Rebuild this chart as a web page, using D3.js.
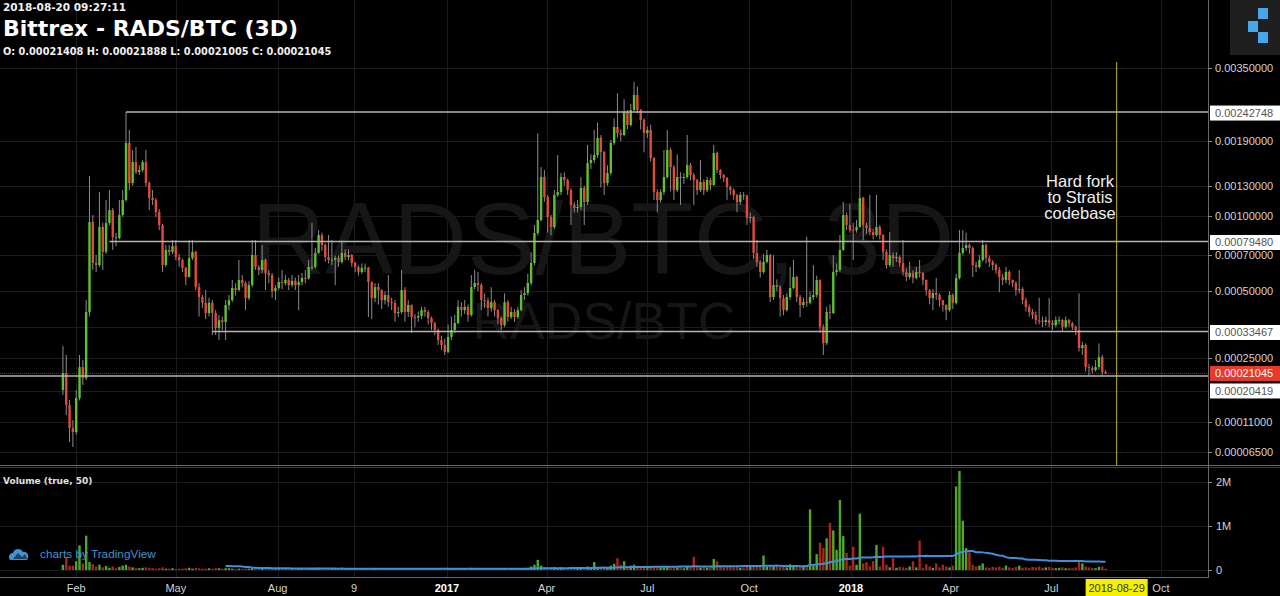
<!DOCTYPE html>
<html><head><meta charset="utf-8">
<script src="https://cdn.jsdelivr.net/npm/d3@7"></script>
<style>
html,body{margin:0;padding:0;background:#000;}
svg{display:block;}
</style></head><body>
<svg id="chart" width="1280" height="596"></svg>
<script>
// ---------------- DATA (prices in units of 1e-7 BTC, volume in millions) ----------------
const firstBarDate = "2016-01-20";
const barDays = 3;
const firstOpen = 1718;
const closes = [
2115,1409,1003,940,1548,2268,1991,4080,9460,6530,
6408,9050,7230,9380,10510,8275,8200,10060,11480,18730,
13300,15920,14620,14870,15920,13300,11680,11480,10330,9210,
6408,7360,7230,7630,6900,6710,6240,5730,6830,7230,
5210,4730,4470,4040,4470,4040,3470,3760,3690,4375,
4590,5160,5060,5570,5410,4680,5310,7027,6290,6120,
6710,5950,5837,5010,5160,5460,5410,5570,5310,5520,
5310,5460,5680,5650,6290,6300,7160,8424,7697,6900,
6710,6740,6830,6590,7160,6900,7027,6530,6290,6010,
6240,6260,5460,4680,5210,5060,4590,4824,4500,4470,
4040,4080,5060,4080,4375,3880,3860,3920,4160,4080,
3840,3650,3400,3060,2899,2690,3160,3400,3650,4290,
4160,4290,3961,5210,5410,5310,4590,4570,4250,4500,
4160,3840,3578,4500,3880,4080,3880,4160,4824,4920,
5410,6530,8570,9630,14010,11780,9890,9050,11990,12300,
14010,13650,12520,10990,10700,10800,12750,11280,15790,16200,
16910,19530,17340,13300,14500,18730,21420,20360,20020,24280,
21780,24690,27970,24690,22710,20360,20880,16480,12300,11480,
12300,14010,17640,15250,12520,14010,13890,14000,15520,14250,
13650,12520,13420,12500,13650,13070,17190,14870,14250,13890,
12840,12520,11990,11280,11990,11950,9800,9890,7160,6590,
6010,6590,7027,4730,5310,5210,4680,4160,4730,5160,
5730,4730,4375,4500,4470,4730,4824,5570,3510,2960,
4080,4040,6010,6120,7360,10060,9210,8810,8780,9050,
11680,9210,8970,8650,8424,9050,8424,7230,6408,7027,
6830,6900,6530,6010,5730,5950,5680,6010,5950,5570,
5060,4680,4920,4824,4590,4375,4160,4824,4470,5680,
7160,7490,7697,7490,6408,6290,6710,7697,6830,6590,
6408,6120,5730,5570,6010,5570,5410,5060,5110,4590,
4290,4080,3961,3760,3740,3690,3760,3650,3578,3760,
3770,3510,3760,3650,3510,3400,2806,2899,2268,2240,
2190,2268,2540,2140.8,2104.5];
const highs = [
2870,2600,1507,1136,1718,2600,2457,4590,14130,10060,
7027,12300,9400,11480,12520,10700,8600,11480,12520,24270,
20880,17640,18100,15520,16200,17640,13500,12520,11700,10600,
9300,7700,7697,8050,8050,7100,6800,6300,8050,8050,
7300,5400,4824,5060,4700,4600,4160,3961,3900,4590,
4824,5570,5400,6710,5837,5500,5500,8050,8050,6400,
7697,6800,6120,5950,5300,5700,6120,5837,5680,5837,
5700,5837,5950,6120,6710,9400,7500,8810,8600,7800,
8424,8050,7000,7000,8000,7400,7400,7100,6600,6400,
6500,6500,6300,5500,5400,5400,5100,5000,5837,4700,
4600,4300,6120,5200,4590,4400,4000,4100,4300,4300,
4160,3900,3700,3450,3200,3100,3600,3900,3961,4590,
4500,4590,4400,5837,6120,6000,5400,4900,4700,5200,
4600,4200,3900,4900,4600,4300,4200,4300,5060,5200,
5900,7200,9210,20300,15250,14870,12000,10060,12520,16900,
14500,14600,13800,12700,11300,11500,14000,13000,18410,17000,
20880,22200,20000,17500,15500,19200,23000,28400,21000,27000,
24690,26000,31200,30000,24900,23000,21500,21800,16600,12600,
12600,17640,20880,18000,15500,17000,14600,14500,20020,15800,
14500,13800,16200,13700,14000,13900,18410,17400,15000,14400,
14000,13000,12700,12100,12300,12300,12000,10300,10000,8050,
6700,7100,7360,7100,7027,5600,5300,4824,4900,6290,
6710,5800,4824,4700,8300,5000,6400,5800,5600,3600,
4300,4400,7027,6500,8424,11280,10300,11100,9400,9630,
15130,11800,9400,12000,8900,12000,9200,8500,7400,8650,
7200,7200,7000,8050,6200,6600,6100,6300,6710,6000,
5600,5100,5100,5680,4900,4600,4400,5000,4900,5900,
8810,8810,8600,7800,7600,6600,7027,8050,7800,7000,
6700,6500,6300,5900,6300,6100,5600,5500,6120,5200,
4700,4400,4200,4100,4700,3900,3900,4680,3760,3900,
3900,3800,3900,3800,3700,3560,4900,3000,2950,2350,
2300,2457,2950,2600,2188.8];
const lows = [
1610,1223,790,720,900,1500,1830,1944,3900,6120,
6000,6300,6120,7100,9200,7360,7600,8100,9900,11300,
12500,13000,14400,14250,14600,12900,10500,11000,9900,8800,
6000,6300,7000,7100,6700,6300,6000,5300,5700,6700,
5060,3900,4250,3800,3900,3226,3226,3060,3400,3060,
4160,4500,4800,5000,5200,4160,4590,5200,6120,5837,
5950,5060,5400,4700,4590,5060,5100,5300,5060,5200,
5060,4160,5300,5400,5600,6100,6200,7100,7300,6600,
6500,6400,5300,6300,6500,6700,6700,6300,6000,5800,
5900,6000,3880,3800,4500,4400,4200,4400,4300,4160,
3700,3880,4000,3700,3880,3300,3500,3700,3800,3900,
3600,3400,3226,2900,2745,2599,2650,3060,3300,3600,
3900,4000,3700,3900,5100,5000,4160,4250,3900,4100,
3900,3600,3400,3500,3700,3800,3700,3800,4100,4600,
4800,5300,6400,8400,9500,11300,8600,8400,8900,11800,
12000,13000,12000,9210,10300,10300,10500,9210,11000,15000,
15800,16500,12800,11990,13000,14200,18400,19600,19000,19800,
21000,21500,24500,24000,21000,17300,19500,16000,11480,10300,
11200,12000,13800,12400,11480,12300,11000,13200,13800,13600,
11000,12000,12300,12000,12300,12500,13000,14500,13800,13400,
11500,12000,11500,10300,11000,11500,9210,9400,6800,6300,
5700,5900,6500,4500,4600,5000,3900,3960,4100,4600,
5100,4500,3880,4250,4300,4400,4600,4700,3300,2600,
2900,3800,4000,5800,6000,7300,8800,8600,6710,8600,
9000,8050,8500,8400,8100,8300,8100,6710,6200,6300,
6300,6600,6300,5800,5500,5600,5400,5600,5700,5300,
4800,4400,4160,4600,4300,4100,3760,4100,4200,4400,
5600,7000,7300,7100,5730,6000,6200,6600,6500,6300,
6100,5900,4950,5300,5400,5300,5200,4800,4900,4400,
4100,3900,3800,3600,3600,3500,3550,3500,3400,3500,
3600,3350,3450,3500,3400,3226,2700,2600,2150,2050,
2100,2150,2200,2050,2100.5];
const volumesM = [
0.12,0.30,0.10,0.10,0.20,0.56,0.15,0.78,0.18,0.13,0.08,0.12,0.06,0.09,0.05,0.08,0.04,0.07,0.10,0.12,
0.08,0.06,0.05,0.04,0.05,0.06,0.05,0.04,0.03,0.04,0.06,0.03,0.03,0.04,0.02,0.03,0.03,0.04,0.05,0.03,
0.05,0.04,0.03,0.03,0.04,0.03,0.05,0.04,0.03,0.04,0.04,0.03,0.02,0.03,0.02,0.03,0.03,0.04,0.03,0.02,
0.03,0.02,0.03,0.03,0.02,0.02,0.03,0.02,0.02,0.02,0.03,0.04,0.03,0.02,0.03,0.04,0.04,0.05,0.04,0.03,
0.03,0.02,0.03,0.02,0.03,0.02,0.02,0.03,0.03,0.02,0.02,0.02,0.04,0.05,0.03,0.03,0.04,0.02,0.03,0.02,
0.03,0.02,0.03,0.03,0.02,0.03,0.02,0.02,0.02,0.02,0.03,0.03,0.03,0.04,0.05,0.05,0.03,0.03,0.02,0.04,
0.03,0.02,0.03,0.05,0.04,0.03,0.03,0.02,0.03,0.02,0.03,0.03,0.04,0.04,0.03,0.02,0.03,0.02,0.03,0.04,
0.05,0.08,0.12,0.23,0.10,0.06,0.05,0.05,0.07,0.05,0.06,0.04,0.04,0.05,0.03,0.03,0.05,0.04,0.08,0.06,
0.18,0.06,0.05,0.08,0.06,0.10,0.14,0.27,0.12,0.20,0.08,0.10,0.12,0.08,0.06,0.05,0.04,0.06,0.08,0.07,
0.06,0.06,0.08,0.05,0.06,0.05,0.06,0.04,0.07,0.06,0.30,0.08,0.06,0.07,0.05,0.06,0.25,0.20,0.07,0.06,
0.08,0.07,0.06,0.08,0.05,0.06,0.10,0.07,0.09,0.08,0.07,0.33,0.08,0.10,0.09,0.12,0.07,0.08,0.06,0.13,
0.10,0.11,0.09,0.08,0.10,1.38,0.10,0.36,0.62,0.50,0.72,1.07,0.90,0.46,1.59,0.77,0.39,0.10,0.53,0.12,
1.28,0.15,0.18,0.08,0.20,0.57,0.08,0.53,0.12,0.06,0.27,0.05,0.07,0.06,0.05,0.08,0.20,0.06,0.67,0.05,
0.13,0.08,0.05,0.15,0.06,0.12,0.08,0.06,0.10,1.90,2.25,1.12,0.50,0.40,0.12,0.08,0.10,0.15,0.06,0.05,
0.07,0.06,0.08,0.05,0.10,0.06,0.05,0.07,0.10,0.05,0.06,0.05,0.07,0.06,0.08,0.05,0.06,0.07,0.05,0.04,
0.05,0.06,0.04,0.05,0.04,0.06,0.22,0.15,0.08,0.06,0.05,0.04,0.07,0.08,0.03];
const volumeMaLength = 50;

const priceTickValues = [0.0035, 0.0019, 0.0013, 0.001, 0.0007, 0.0005, 0.00025, 0.00011, 0.000065];
const priceGridExtra = [0.00035, 0.00017];
const levelPrices = [0.00242748, 0.0007948, 0.00033467, 0.00020419];
const levelStartBars = [19, 14, 45, -1];
const levelLabelNudge = [0, 0, 0, 14];
const lastPrice = 0.00021045;
const volumeTickValues = [0, 1, 2];
const volumeTickLabels = ["0", "1M", "2M"];
const timeTickDates = ["2016-02-01","2016-05-01","2016-08-01","2016-10-09","2017-01-01","2017-04-01","2017-07-01","2017-10-01","2018-01-01","2018-04-01","2018-07-01","2018-10-08"];
const timeTickLabels = ["Feb","May","Aug","9","2017","Apr","Jul","Oct","2018","Apr","Jul","Oct"];
const markerDate = "2018-08-29";
const headerTime = "2018-08-20 09:27:11";
const title = "Bittrex - RADS/BTC (3D)";
const noteLines = ["Hard fork", "to Stratis", "codebase"];

// ---------------- RENDER ----------------
const svg = d3.select("#chart");
const W = 1280, H = 596;
const axisX = 1208;
const priceTop = 0, priceBottom = 465;
const volTop = 467, volBottom = 577;
const parse = d3.utcParse("%Y-%m-%d");
const start = parse(firstBarDate);
const bars = closes.map((c, i) => {
  const o = (i === 0 ? firstOpen : closes[i - 1]) / 1e7;
  const cc = c / 1e7;
  return {
    date: d3.utcDay.offset(start, barDays * i),
    o, c: cc,
    h: Math.max(highs[i] / 1e7, o, cc),
    l: Math.min(lows[i] / 1e7, o, cc),
    v: volumesM[i]
  };
});

const x = d3.scaleUtc().domain([parse("2017-01-01"), parse("2018-01-01")]).range([447, 851]);
const y = d3.scaleSymlog().constant(1e-4).domain([0.00004892, 0.00611]).range([priceBottom, priceTop]);
const yv = d3.scaleLinear().domain([0, 2.341]).range([570, volTop]);

svg.append("rect").attr("width", W).attr("height", H).attr("fill", "#000");

const defs = svg.append("defs");
defs.append("clipPath").attr("id", "pclip").append("rect").attr("x", 0).attr("y", priceTop).attr("width", axisX).attr("height", priceBottom - priceTop);
defs.append("clipPath").attr("id", "vclip").append("rect").attr("x", 0).attr("y", volTop).attr("width", axisX).attr("height", volBottom - volTop);

const gridColor = "#1b1b1b";
const tDates = timeTickDates.map(parse);
svg.append("g").selectAll("line").data(tDates).join("line")
  .attr("x1", d => Math.round(x(d)) + 0.5).attr("x2", d => Math.round(x(d)) + 0.5)
  .attr("y1", 0).attr("y2", volBottom).attr("stroke", gridColor);
svg.append("g").selectAll("line").data(priceTickValues.concat(priceGridExtra)).join("line")
  .attr("x1", 0).attr("x2", axisX).attr("y1", d => Math.round(y(d)) + 0.5).attr("y2", d => Math.round(y(d)) + 0.5)
  .attr("stroke", gridColor);
svg.append("g").selectAll("line").data(volumeTickValues).join("line")
  .attr("x1", 0).attr("x2", axisX).attr("y1", d => Math.round(yv(d)) + 0.5).attr("y2", d => Math.round(yv(d)) + 0.5)
  .attr("stroke", gridColor);

// watermark
svg.append("text").attr("x", 603).attr("y", 274).attr("text-anchor", "middle")
  .attr("font-family", "Liberation Sans, Arial, sans-serif").attr("font-size", 102)
  .attr("fill", "#161616").text("RADS/BTC, 3D");
svg.append("text").attr("x", 604).attr("y", 339).attr("text-anchor", "middle")
  .attr("font-family", "Liberation Sans, Arial, sans-serif").attr("font-size", 52)
  .attr("fill", "#161616").text("RADS/BTC");

const up = "#5fc12e", down = "#e24a3b";
const pane = svg.append("g").attr("clip-path", "url(#pclip)");
pane.append("line").attr("x1", 0).attr("x2", axisX)
  .attr("y1", y(lastPrice)).attr("y2", y(lastPrice))
  .attr("stroke", "#9c1e1e").attr("stroke-dasharray", "1,1").attr("stroke-width", 1);

// candles
const bw = 2.4;
const cg = pane.append("g");
cg.selectAll("line").data(bars).join("line")
  .attr("x1", d => x(d.date)).attr("x2", d => x(d.date))
  .attr("y1", d => y(d.h)).attr("y2", d => y(d.l))
  .attr("stroke", "#8c8c8c").attr("stroke-width", 1);
cg.selectAll("rect").data(bars).join("rect")
  .attr("x", d => x(d.date) - bw / 2).attr("width", bw)
  .attr("y", d => y(Math.max(d.o, d.c)))
  .attr("height", d => Math.max(1, y(Math.min(d.o, d.c)) - y(Math.max(d.o, d.c))))
  .attr("fill", d => d.c >= d.o ? up : down);

// level lines
const lg = pane.append("g");
levelPrices.forEach((p, k) => {
  const sx = levelStartBars[k] < 0 ? 0 : x(bars[levelStartBars[k]].date);
  lg.append("line").attr("x1", sx).attr("x2", axisX).attr("y1", y(p)).attr("y2", y(p))
    .attr("stroke", "#b4b4b4").attr("stroke-width", 1.6);
});

// vertical marker line
const mx = x(parse(markerDate));
svg.append("line").attr("x1", mx).attr("x2", mx).attr("y1", 62).attr("y2", priceBottom)
  .attr("stroke", "#bfae3a").attr("stroke-width", 1);

// note
const note = svg.append("text").attr("font-family", "Liberation Sans, Arial, sans-serif")
  .attr("font-size", 16.5).attr("fill", "#f0f0f0").attr("text-anchor", "middle");
noteLines.forEach((t, k) => note.append("tspan").attr("x", 1080).attr("y", 187 + k * 16).text(t));

// volume
const vg = svg.append("g").attr("clip-path", "url(#vclip)");
vg.selectAll("rect").data(bars).join("rect")
  .attr("x", d => x(d.date) - bw / 2).attr("width", bw)
  .attr("y", d => yv(d.v)).attr("height", d => Math.max(0.5, yv(0) - yv(d.v)))
  .attr("fill", d => d.c >= d.o ? "#4fa82a" : "#a8261c");
const ma = bars.map((d, i) => {
  if (i < volumeMaLength - 1) return null;
  return { date: d.date, v: d3.mean(bars.slice(i - volumeMaLength + 1, i + 1), b => b.v) };
}).filter(Boolean);
vg.append("path").datum(ma)
  .attr("d", d3.line().x(d => x(d.date)).y(d => yv(d.v)))
  .attr("fill", "none").attr("stroke", "#3f8fde").attr("stroke-width", 2);

// pane borders & axis lines
svg.append("line").attr("x1", 0).attr("x2", W).attr("y1", 465.5).attr("y2", 465.5).attr("stroke", "#6a6a6a");
svg.append("line").attr("x1", 0).attr("x2", W).attr("y1", 467.5).attr("y2", 467.5).attr("stroke", "#3a3a3a");
svg.append("line").attr("x1", 0).attr("x2", axisX).attr("y1", 577.5).attr("y2", 577.5).attr("stroke", "#6a6a6a");
svg.append("line").attr("x1", axisX + 0.5).attr("x2", axisX + 0.5).attr("y1", 0).attr("y2", 578).attr("stroke", "#6a6a6a");

const axisFont = "Liberation Sans, Arial, sans-serif";
const pa = svg.append("g");
pa.selectAll("line").data(priceTickValues).join("line")
  .attr("x1", axisX).attr("x2", axisX + 4).attr("y1", d => Math.round(y(d)) + 0.5).attr("y2", d => Math.round(y(d)) + 0.5)
  .attr("stroke", "#8a8a8a");
pa.selectAll("text").data(priceTickValues).join("text")
  .attr("x", 1215).attr("y", d => y(d) + 4)
  .attr("font-family", axisFont).attr("font-size", 11).attr("fill", "#d2d2d2")
  .text(d => d.toFixed(8));
levelPrices.forEach((p, k) => {
  const cy = y(p) + 1 + levelLabelNudge[k];
  pa.append("rect").attr("x", 1210).attr("y", cy - 7.5).attr("width", 70).attr("height", 15).attr("fill", "#ffffff");
  pa.append("text").attr("x", 1215).attr("y", cy + 4).attr("font-family", axisFont).attr("font-size", 11)
    .attr("fill", "#555").text(p.toFixed(8));
});
const ly = y(lastPrice);
pa.append("rect").attr("x", 1210).attr("y", ly - 7.5).attr("width", 70).attr("height", 15).attr("fill", "#e8392b");
pa.append("text").attr("x", 1215).attr("y", ly + 4).attr("font-family", axisFont).attr("font-size", 11)
  .attr("fill", "#ffffff").text(lastPrice.toFixed(8));

const va = svg.append("g");
va.selectAll("line").data(volumeTickValues).join("line")
  .attr("x1", axisX).attr("x2", axisX + 4).attr("y1", d => Math.round(yv(d)) + 0.5).attr("y2", d => Math.round(yv(d)) + 0.5)
  .attr("stroke", "#8a8a8a");
va.selectAll("text").data(volumeTickValues).join("text")
  .attr("x", 1216).attr("y", d => yv(d) + 4)
  .attr("font-family", axisFont).attr("font-size", 11).attr("fill", "#d2d2d2")
  .text((d, i) => volumeTickLabels[i]);

const ta = svg.append("g");
ta.selectAll("text").data(tDates).join("text")
  .attr("x", d => x(d)).attr("y", 592).attr("text-anchor", "middle")
  .attr("font-family", axisFont).attr("font-size", 11)
  .attr("font-weight", (d, i) => /^\d{4}$/.test(timeTickLabels[i]) ? "bold" : "normal")
  .attr("fill", (d, i) => /^\d{4}$/.test(timeTickLabels[i]) ? "#ffffff" : "#d2d2d2")
  .text((d, i) => timeTickLabels[i]);
svg.append("rect").attr("x", mx - 31).attr("y", 579).attr("width", 62).attr("height", 17).attr("fill", "#f4f000");
svg.append("text").attr("x", mx).attr("y", 592).attr("text-anchor", "middle")
  .attr("font-family", axisFont).attr("font-size", 11).attr("fill", "#333").text(markerDate);

// header
const hf = "DejaVu Sans, Verdana, sans-serif";
svg.append("text").attr("x", 3).attr("y", 11).attr("font-family", hf).attr("font-size", 10.5)
  .attr("font-weight", "bold").attr("fill", "#f0f0f0").text(headerTime);
svg.append("text").attr("x", 3).attr("y", 36).attr("font-family", hf).attr("font-size", 22)
  .attr("font-weight", "bold").attr("fill", "#ffffff").text(title);
const last = bars[bars.length - 1];
const f8 = d3.format(".8f");
svg.append("text").attr("x", 3).attr("y", 55).attr("font-family", hf).attr("font-size", 9.75)
  .attr("font-weight", "bold").attr("fill", "#f0f0f0")
  .text(`O: ${f8(last.o)} H: ${f8(last.h)} L: ${f8(last.l)} C: ${f8(last.c)}`);
svg.append("text").attr("x", 3).attr("y", 484).attr("font-family", hf).attr("font-size", 9)
  .attr("font-weight", "bold").attr("fill", "#e0e0e0").text("Volume (true, " + volumeMaLength + ")");

// TradingView badge
const logo = svg.append("g").attr("fill", "#3d93d6");
logo.append("path").attr("d", "M11,560 C8,560 8,553 13,553 C14,548 21,548 23,552 C27,551 30,556 27,560 Z");
logo.append("path").attr("d", "M13,559 L18,553 L22,557 L25,554 L27,559 Z").attr("fill", "#000").attr("opacity", 0.55);
svg.append("text").attr("x", 40).attr("y", 558).attr("font-family", axisFont).attr("font-size", 11.8)
  .attr("fill", "#3d93d6").text("charts by TradingView");

// top-right icon
svg.append("rect").attr("x", 1230).attr("y", 0).attr("width", 50).attr("height", 55).attr("fill", "#1f1f1f");
[[1258, 8], [1248, 21], [1258, 32]].forEach(p => {
  svg.append("rect").attr("x", p[0]).attr("y", p[1]).attr("width", 10).attr("height", 11).attr("fill", "#46a6ee");
});
</script>
</body></html>
